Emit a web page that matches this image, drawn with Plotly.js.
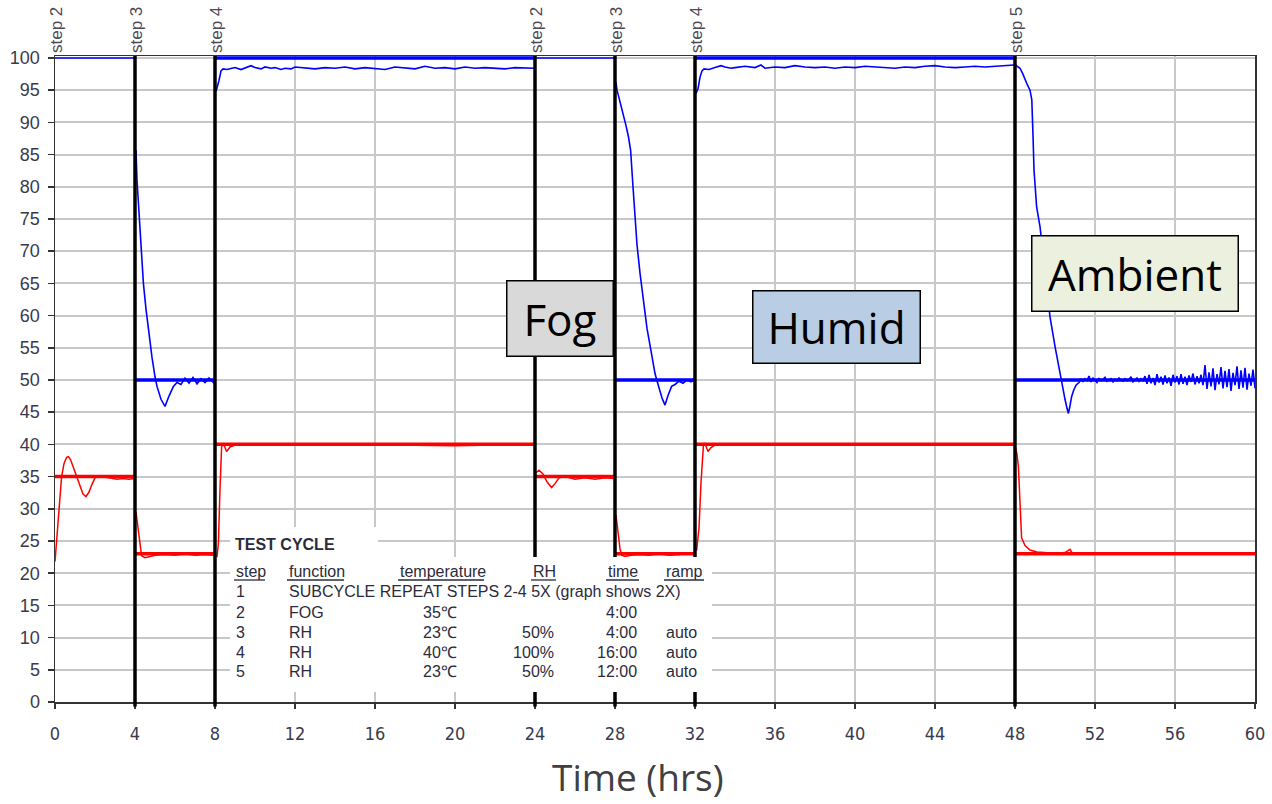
<!DOCTYPE html>
<html>
<head>
<meta charset="utf-8">
<script src="https://cdn.plot.ly/plotly-3.0.1.min.js"></script>
<style>html,body{margin:0;padding:0;background:#fff;}#chart{width:1272px;height:804px;}</style>
</head>
<body>
<div id="chart"></div>
<script>
// ---------- DATA ----------
const stepTimes  = [0, 4, 8, 24, 28, 32, 48];
const stepLabels = ['step 2', 'step 3', 'step 4', 'step 2', 'step 3', 'step 4', 'step 5'];
const boundaryTimes = [4, 8, 24, 28, 32, 48];

// set points (segment start, end, value)
const rhSetStart = [4, 8, 28, 32, 48];
const rhSetEnd   = [8, 24, 32, 48, 60];
const rhSetVal   = [50, 100, 50, 100, 50];
const fogRhStart = [0, 24];
const fogRhEnd   = [4, 28];
const fogRhVal   = [100, 100];
const tempSetStart = [0, 4, 8, 24, 28, 32, 48];
const tempSetEnd   = [4, 8, 24, 28, 32, 48, 60];
const tempSetVal   = [35, 23, 40, 35, 23, 40, 23];

// measured temperature (deg C)
const temp1X = [0,0.08,0.17,0.25,0.33,0.45,0.58,0.67,0.78,0.92,1.08,1.25,1.4,1.55,1.7,1.85,2.0,2.2,2.5,2.8,3.1,3.4,3.7,3.98];
const temp1Y = [21.8,25,29,32.5,35,37,38,38.1,37.6,36.4,35,33.4,32.3,31.9,32.6,33.8,34.8,35.1,34.9,34.7,34.6,34.7,34.6,34.7];
const temp2X = [4.05,4.15,4.25,4.33,4.5,4.7,5.0,5.5,6.0,6.5,7.0,7.5,7.95];
const temp2Y = [29.5,27,24,22.7,22.4,22.6,22.8,22.9,22.8,23.0,22.8,22.9,22.8];
const temp3X = [8.1,8.17,8.25,8.33,8.42,8.58,8.75,9.0,10,12,14,16,18,20,22,23.95];
const temp3Y = [22.5,24.7,33,39.6,40.1,38.9,39.6,39.9,40,39.9,40,39.9,39.9,39.8,39.9,40];
const temp4X = [24.05,24.2,24.4,24.6,24.83,25.0,25.2,25.5,26,26.5,27,27.5,27.95];
const temp4Y = [35.6,36.0,35.4,34.2,33.3,33.9,34.8,35.0,34.6,34.8,34.6,34.8,34.7];
const temp5X = [28.05,28.15,28.25,28.33,28.5,28.8,29.2,29.7,30.2,30.7,31.2,31.6,31.95];
const temp5Y = [29,26.5,23.8,22.8,22.6,22.8,22.9,22.8,23.0,22.8,22.9,23.1,22.9];
const temp6X = [32.08,32.2,32.3,32.42,32.5,32.65,32.8,33.0,34,36,38,40,42,44,46,47.95];
const temp6Y = [23.5,27,34,39.8,40.1,38.9,39.5,39.9,40,39.9,40,40,39.9,40,39.9,40];
const temp7X = [48.02,48.1,48.17,48.25,48.33,48.5,48.75,49.1,49.5,50,50.5,50.75,50.85,51.1,52,54,56,58,60];
const temp7Y = [39.5,38.5,36.5,31,25.5,24.3,23.6,23.3,23.2,23.1,23.2,23.7,23.2,23.0,23.0,23.1,23.0,23.0,23.0];

// measured relative humidity (%)
const rh1X = [4.05,4.1,4.2,4.3,4.42,4.55,4.7,4.85,5.0,5.1,5.3,5.5,5.7,5.92,6.1,6.3,6.5,6.7,6.9,7.1,7.3,7.5,7.7,7.95];
const rh1Y = [85.7,81,76,70,65,61,57,53.5,50.5,49,47,45.9,47.5,49,49.6,49.3,50.3,49.5,50.4,49.4,50.2,49.6,50.3,49.5];
const rh2X = [8.05,8.12,8.2,8.3,8.4,8.6,8.8,9.0,9.3,9.5,9.8,10,10.3,10.5,10.8,11,11.3,11.5,11.8,12,12.5,13,13.5,14,14.5,15,15.5,16,16.5,17,17.5,18,18.5,19,19.5,20,20.5,21,21.5,22,22.5,23,23.5,23.95];
const rh2Y = [94.8,95.5,96.5,98,98.3,98.2,98.4,98.5,98.2,98.4,98.8,98.5,98.3,98.6,98.4,98.5,98.2,98.4,98.3,98.6,98.4,98.3,98.5,98.4,98.6,98.3,98.5,98.4,98.2,98.6,98.4,98.3,98.7,98.4,98.5,98.3,98.6,98.4,98.5,98.4,98.3,98.5,98.4,98.4];
const rh3X = [28.05,28.1,28.2,28.3,28.42,28.55,28.67,28.78,28.9,29.1,29.25,29.4,29.6,29.8,30.0,30.2,30.35,30.5,30.65,30.83,31.0,31.2,31.4,31.6,31.8,31.95];
const rh3Y = [96.2,95,93.8,92.6,91.4,89.5,87.8,85.7,80,71,66.6,62.5,58,54.5,51,48.8,47.2,46.1,47.6,49,49.3,49.8,49.5,50,49.7,50.1];
const rh4X = [32.05,32.15,32.25,32.35,32.45,32.7,33,33.3,33.5,33.8,34,34.5,35,35.3,35.5,36,36.5,37,37.5,38,38.5,39,39.5,40,40.5,41,41.5,42,42.5,43,43.5,44,44.5,45,45.5,46,46.5,47,47.5,47.95];
const rh4Y = [94.5,95.2,97,98,98.3,98.2,98.5,98.8,98.6,98.4,98.5,98.7,98.5,98.9,98.4,98.6,98.5,98.8,98.6,98.5,98.6,98.4,98.6,98.5,98.7,98.6,98.5,98.4,98.6,98.5,98.7,98.8,98.6,98.5,98.6,98.7,98.6,98.7,98.8,98.9];
const rh5X = [48.02,48.12,48.25,48.38,48.5,48.62,48.75,48.84,48.9,48.95,49.08,49.25,49.5,49.75,50.0,50.17,50.33,50.5,50.6,50.67,50.75,50.83,50.92,51.05,51.2,
  51.3,51.4,51.5,51.6,51.7,51.8,51.9,52.0,52.1,52.2,52.3,52.4,52.5,52.6,52.7,52.8,52.9,53.0,53.1,53.2,53.3,53.4,53.5,53.6,53.7,53.8,53.9,54.0,54.1,54.2,54.3,54.4,
  54.5,54.6,54.7,54.8,54.9,55.0,55.1,55.2,55.3,55.4,55.5,55.6,55.7,55.8,55.9,56.0,56.1,56.2,56.3,56.4,56.5,56.6,56.7,56.8,56.9,57.0,57.1,57.2,57.3,57.4,
  57.5,57.6,57.7,57.8,57.9,58.0,58.1,58.2,58.3,58.4,58.5,58.6,58.7,58.8,58.9,59.0,59.1,59.2,59.3,59.4,59.5,59.6,59.7,59.8,59.9,60.0];
const rh5Y = [98.9,98.7,98.4,97.6,96.6,95.8,95.0,93.5,88,82.6,76.9,73.8,67,59.8,55.2,52.3,49.5,47,45.6,44.8,46,47.4,48.3,49.2,49.6,
  50.1,49.8,50.2,49.9,50.6,49.7,50.3,50.0,49.6,50.2,49.9,50.1,50.4,49.8,50.0,50.2,49.7,50.1,49.9,50.3,50.0,49.8,50.2,49.9,50.1,50.5,49.7,50.0,50.3,49.8,50.2,49.9,
  50.6,49.4,50.8,49.5,50.3,49.2,50.9,49.6,50.5,49.3,50.7,49.5,50.4,49.1,50.8,49.6,50.6,49.3,50.9,49.4,50.5,49.2,50.7,49.7,51.0,49.3,50.6,49.5,50.8,49.2,
  52.3,48.6,51.2,49.0,51.8,48.4,50.9,49.3,52.0,48.7,51.4,48.9,51.7,48.3,51.1,49.2,52.1,48.6,51.5,48.8,51.9,48.5,51.0,49.1,51.6,48.7];

// test cycle table
const tableTitle   = 'TEST CYCLE';
const tableHeaders = ['step', 'function', 'temperature', 'RH', 'time', 'ramp'];
const tableSteps   = ['1', '2', '3', '4', '5'];
const tableFuncs   = ['SUBCYCLE REPEAT STEPS 2-4 5X (graph shows 2X)', 'FOG', 'RH', 'RH', 'RH'];
const tableTemps   = ['', '35℃', '23℃', '40℃', '23℃'];
const tableRH      = ['', '', '50%', '100%', '50%'];
const tableTimes   = ['', '4:00', '4:00', '16:00', '12:00'];
const tableRamps   = ['', '', 'auto', 'auto', 'auto'];

const phaseLabels = ['Fog', 'Humid', 'Ambient'];
const xTitle = 'Time (hrs)';

// ---------- BUILD ----------
function joinSegs(list) { const out = []; list.forEach((s, i) => { if (i) out.push(null); out.push(...s); }); return out; }
function stepXY(st, en, val) {
  const xs = [], ys = [];
  st.forEach((s, i) => { if (i) { xs.push(null); ys.push(null); } xs.push(s, en[i]); ys.push(val[i], val[i]); });
  return [xs, ys];
}
// pixel -> data helpers for decoration placement
const L = 55, R = 17, T = 56, B = 102, W = 1272, H = 804;
const YMAX = 100.3;
function hx(px) { return (px - L) / (W - L - R) * 60; }
function vy(py) { return (H - B - py) / (H - B - T) * YMAX; }

const [rsX, rsY] = stepXY(rhSetStart, rhSetEnd, rhSetVal);
const [frX, frY] = stepXY(fogRhStart, fogRhEnd, fogRhVal);
const [tsX, tsY] = stepXY(tempSetStart, tempSetEnd, tempSetVal);

const traces = [
  { x: joinSegs([temp1X, temp2X, temp3X, temp4X, temp5X, temp6X, temp7X]),
    y: joinSegs([temp1Y, temp2Y, temp3Y, temp4Y, temp5Y, temp6Y, temp7Y]),
    mode: 'lines', line: { color: '#ff0000', width: 1.5 }, connectgaps: false },
  { x: joinSegs([rh1X, rh2X, rh3X, rh4X, rh5X]),
    y: joinSegs([rh1Y, rh2Y, rh3Y, rh4Y, rh5Y]),
    mode: 'lines', line: { color: '#0000ff', width: 1.6 }, connectgaps: false },
  { x: frX, y: frY, mode: 'lines', line: { color: '#0000ff', width: 1.5 } },
  { x: tsX, y: tsY, mode: 'lines', line: { color: '#ff0000', width: 3.5 } },
  { x: rsX, y: rsY, mode: 'lines', line: { color: '#0000ff', width: 3.5 } }
];

const shapes = [];
boundaryTimes.forEach(t => shapes.push({ type: 'line', xref: 'x', yref: 'paper', x0: t, x1: t, y0: -0.007, y1: 1,
  line: { color: '#000', width: 3.5 }, layer: 'above' }));
// white table backgrounds
shapes.push({ type: 'rect', xref: 'x', yref: 'y', x0: hx(230), x1: hx(378), y0: vy(558), y1: vy(527), fillcolor: '#fff', line: { width: 0 }, layer: 'above' });
shapes.push({ type: 'rect', xref: 'x', yref: 'y', x0: hx(230), x1: hx(712), y0: vy(692), y1: vy(557), fillcolor: '#fff', line: { width: 0 }, layer: 'above' });

const annotations = [];
const stepFont = { family: 'Liberation Sans, Arial, sans-serif', size: 17, color: '#4a4a55' };
stepTimes.forEach((t, i) => annotations.push({ x: t, y: 1, xref: 'x', yref: 'paper', text: stepLabels[i], textangle: -90,
  xanchor: 'center', yanchor: 'bottom', showarrow: false, font: stepFont, xshift: 1, yshift: 1 }));

// table text
const tf = { family: 'Liberation Sans, Arial, sans-serif', size: 16, color: '#2b2b3b' };
function tAnn(text, px, py, anchor, bold) {
  annotations.push({ x: hx(px), y: vy(py), xref: 'x', yref: 'y', text: bold ? '<b>' + text + '</b>' : text,
    xanchor: anchor, yanchor: 'middle', showarrow: false, font: tf });
}
tAnn(tableTitle, 233, 544, 'left', true);
const hdrLeft  = [234, 287, 398, 531, 606, 664];
const hdrRight = [265, 344, 484, 556, 639, 704];
tableHeaders.forEach((h, i) => {
  tAnn(h, hdrLeft[i], 571, 'left');
  shapes.push({ type: 'line', xref: 'x', yref: 'y', x0: hx(hdrLeft[i]), x1: hx(hdrRight[i]), y0: vy(580), y1: vy(580),
    line: { color: '#2b2b3b', width: 1.3 }, layer: 'above' });
});
const rowY = [591, 612, 632, 652, 671];
tableSteps.forEach((s, i) => {
  tAnn(s, 234, rowY[i], 'left');
  tAnn(tableFuncs[i], 287, rowY[i], 'left');
  if (tableTemps[i]) tAnn(tableTemps[i], 459, rowY[i], 'right');
  if (tableRH[i]) tAnn(tableRH[i], 556, rowY[i], 'right');
  if (tableTimes[i]) tAnn(tableTimes[i], 639, rowY[i], 'right');
  if (tableRamps[i]) tAnn(tableRamps[i], 664, rowY[i], 'left');
});

// phase boxes
const boxFont = { family: 'Open Sans, Noto Sans, sans-serif', size: 44, color: '#000' };
const boxes = [
  { cx: 560, cy: 318.5, w: 108, h: 77, bg: '#d9d9d9' },
  { cx: 836.5, cy: 327, w: 169, h: 74, bg: '#b9cde5' },
  { cx: 1135, cy: 273.5, w: 208, h: 77, bg: '#ebf1de' }
];
boxes.forEach((b, i) => annotations.push({ x: hx(b.cx), y: vy(b.cy), xref: 'x', yref: 'y', text: phaseLabels[i],
  showarrow: false, xanchor: 'center', yanchor: 'middle', width: b.w - 3, height: b.h - 3, borderpad: 0,
  bgcolor: b.bg, bordercolor: '#000', borderwidth: 1.5, font: boxFont }));

// axis title (placed slightly left of centre as in the source)
annotations.push({ x: (638 - L) / (W - L - R), y: -(776 - (H - B)) / (H - B - T), xref: 'paper', yref: 'paper',
  text: xTitle, showarrow: false, xanchor: 'center', yanchor: 'middle',
  font: { family: 'Open Sans, Noto Sans, sans-serif', size: 37, color: '#404040' } });

const tickFontY = { family: 'Liberation Sans, Arial, sans-serif', size: 18, color: '#3a3a4c' };
const tickFontX = { family: 'Liberation Sans Narrow, DejaVu Sans Condensed, Liberation Sans, sans-serif', size: 18, color: '#3a3a4c' };

const layout = {
  width: W, height: H,
  margin: { l: L, r: R, t: T, b: B },
  paper_bgcolor: '#fff', plot_bgcolor: '#fff',
  showlegend: false,
  xaxis: { range: [0, 60], tick0: 0, dtick: 4, showgrid: true, gridcolor: '#c8c8c8', gridwidth: 2,
    zeroline: false, showline: true, linecolor: '#333', linewidth: 1.5, mirror: true,
    ticks: 'outside', ticklen: 5, tickwidth: 1.5, tickcolor: '#333', tickfont: tickFontX, ticklabelstandoff: 10,
    fixedrange: true },
  yaxis: { range: [0, YMAX], tick0: 0, dtick: 5, showgrid: true, gridcolor: '#c8c8c8', gridwidth: 2,
    zeroline: false, showline: true, linecolor: '#333', linewidth: 1.5, mirror: true,
    ticks: 'outside', ticklen: 6, tickwidth: 1.5, tickcolor: '#333', tickfont: tickFontY, ticklabelstandoff: 4,
    fixedrange: true },
  shapes: shapes,
  annotations: annotations
};

Plotly.newPlot('chart', traces, layout, { displayModeBar: false, staticPlot: true });
</script>
</body>
</html>
